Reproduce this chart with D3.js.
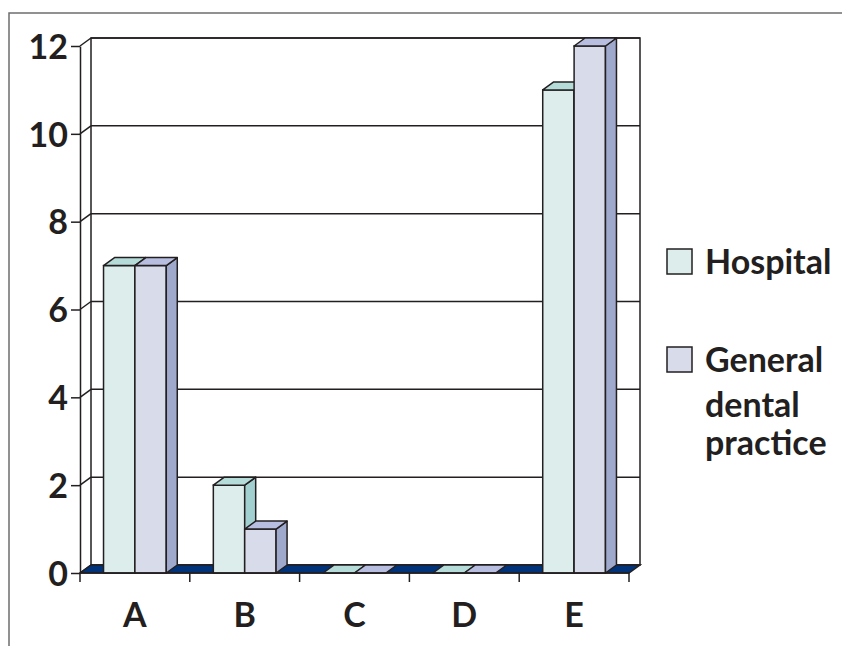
<!DOCTYPE html>
<html lang="en">
<head>
    <meta charset="UTF-8">
    <title>Hospital vs General dental practice</title>
    <script type="text/javascript" src="https://cdn.jsdelivr.net/npm/d3@7"></script>
    <style>
        body { margin: 0; background: #fff; }
        .label {
            font-family: Lato, "Noto Sans", sans-serif;
            font-weight: bold;
            font-size: 34px;
            fill: #231f20;
        }
        .axis path, .axis line { stroke: #231f20; stroke-width: 1.5; }
        .axis text {
            font-family: Lato, "Noto Sans", sans-serif;
            font-weight: bold;
            font-size: 34px;
            fill: #231f20;
        }
    </style>
</head>
<body>
    <script type="text/javascript">
        const categories = ['A', 'B', 'C', 'D', 'E'];
        const seriesNames = ['Hospital', 'General dental practice'];
        const hospital = [7, 2, 0, 0, 11];
        const generalDental = [7, 1, 0, 0, 12];
        const yTicks = [0, 2, 4, 6, 8, 10, 12];

        const w = 842;
        const h = 646;
        const dark = '#231f20';
        const dx = 11, dy = -8; // depth of the 3D look

        // front face, top face, side face
        const colors = [
            { front: '#ddedec', top: '#b6dcda', side: '#a2cfcf' },
            { front: '#d8dcea', top: '#b8bedf', side: '#9fa9cc' }
        ];

        const svg = d3.select('body')
            .append('svg')
            .attr('width', w)
            .attr('height', h);

        // outer frame (top and left edge only)
        svg.append('path')
            .attr('d', 'M9,646 L9,13 L842,13')
            .attr('fill', 'none')
            .attr('stroke', '#6d6e71')
            .attr('stroke-width', 1.5);

        const yScale = d3.scaleLinear()
            .domain([0, 12])
            .range([573, 46]);
        const x0 = d3.scaleBand()
            .domain(categories)
            .range([80, 629])
            .padding(0);
        const x1 = d3.scaleBand()
            .domain(seriesNames)
            .range([0, x0.bandwidth()])
            .paddingInner(0)
            .paddingOuter(0.75);

        const [xLeft, xRight] = x0.range();
        const y0 = yScale(0);
        const yTop = yScale(12);

        // back wall
        svg.append('rect')
            .attr('x', xLeft + dx)
            .attr('y', yTop + dy)
            .attr('width', xRight - xLeft)
            .attr('height', y0 - yTop)
            .attr('fill', '#fff')
            .attr('stroke', dark)
            .attr('stroke-width', 1.5);

        // gridlines on back wall + connectors to front axis
        yTicks.forEach(t => {
            svg.append('line')
                .attr('x1', xLeft + dx).attr('x2', xRight + dx)
                .attr('y1', yScale(t) + dy).attr('y2', yScale(t) + dy)
                .attr('stroke', dark).attr('stroke-width', 1.5);
            svg.append('line')
                .attr('x1', xLeft).attr('x2', xLeft + dx)
                .attr('y1', yScale(t)).attr('y2', yScale(t) + dy)
                .attr('stroke', dark).attr('stroke-width', 1.5);
        });

        // floor
        svg.append('polygon')
            .attr('points', [
                [xLeft, y0], [xRight, y0], [xRight + dx, y0 + dy], [xLeft + dx, y0 + dy]
            ].join(' '))
            .attr('fill', '#00337a')
            .attr('stroke', dark)
            .attr('stroke-width', 1.5);

        // bars
        const rows = categories.map((c, i) => ({
            category: c,
            values: [hospital[i], generalDental[i]]
        }));

        rows.forEach(row => {
            row.values.forEach((v, j) => {
                const x = x0(row.category) + x1(seriesNames[j]);
                const bw = x1.bandwidth();
                const yv = yScale(v);
                const g = svg.append('g').attr('class', 'bar');
                const pts = {
                    top: [[x, yv], [x + bw, yv], [x + bw + dx, yv + dy], [x + dx, yv + dy]],
                    side: [[x + bw, yv], [x + bw + dx, yv + dy], [x + bw + dx, y0 + dy], [x + bw, y0]]
                };
                if (v > 0) {
                    g.append('rect')
                        .attr('x', x).attr('y', yv)
                        .attr('width', bw).attr('height', y0 - yv)
                        .attr('fill', colors[j].front)
                        .attr('stroke', dark).attr('stroke-width', 1.5);
                    g.append('polygon')
                        .attr('points', pts.side.join(' '))
                        .attr('fill', colors[j].side)
                        .attr('stroke', dark).attr('stroke-width', 1.5)
                        .attr('stroke-linejoin', 'round');
                }
                g.append('polygon')
                    .attr('points', pts.top.join(' '))
                    .attr('fill', colors[j].top)
                    .attr('stroke', dark).attr('stroke-width', 1.5)
                    .attr('stroke-linejoin', 'round');
            });
        });

        // front y axis
        const yAxis = d3.axisLeft(yScale)
            .tickValues(yTicks)
            .tickSize(9)
            .tickSizeOuter(0)
            .tickPadding(3);
        const yAxisG = svg.append('g')
            .attr('class', 'axis')
            .attr('transform', 'translate(' + xLeft + ',0)')
            .call(yAxis);
        yAxisG.selectAll('text').attr('dy', '0.36em');

        // front x axis with boundary ticks
        svg.append('line')
            .attr('x1', xLeft).attr('x2', xRight)
            .attr('y1', y0).attr('y2', y0)
            .attr('stroke', dark).attr('stroke-width', 1.5);
        const bounds = categories.map(c => x0(c)).concat([xRight]);
        svg.selectAll('.xtick')
            .data(bounds)
            .enter()
            .append('line')
            .attr('class', 'xtick')
            .attr('x1', d => d).attr('x2', d => d)
            .attr('y1', y0).attr('y2', y0 + 9)
            .attr('stroke', dark).attr('stroke-width', 1.5);
        svg.selectAll('.xlabel')
            .data(categories)
            .enter()
            .append('text')
            .attr('class', 'label')
            .attr('x', d => x0(d) + x0.bandwidth() / 2)
            .attr('y', 627)
            .attr('text-anchor', 'middle')
            .text(d => d);

        // legend
        const legendItems = [
            { y: 249, color: colors[0].front, lines: ['Hospital'], baselines: [274] },
            { y: 347, color: colors[1].front, lines: ['General', 'dental', 'practice'], baselines: [372, 417, 455] }
        ];
        legendItems.forEach(item => {
            svg.append('rect')
                .attr('x', 667).attr('y', item.y)
                .attr('width', 25).attr('height', 25)
                .attr('fill', item.color)
                .attr('stroke', dark).attr('stroke-width', 1.5);
            item.lines.forEach((line, k) => {
                svg.append('text')
                    .attr('class', 'label')
                    .attr('x', 705)
                    .attr('y', item.baselines[k])
                    .text(line);
            });
        });
    </script>
</body>
</html>
